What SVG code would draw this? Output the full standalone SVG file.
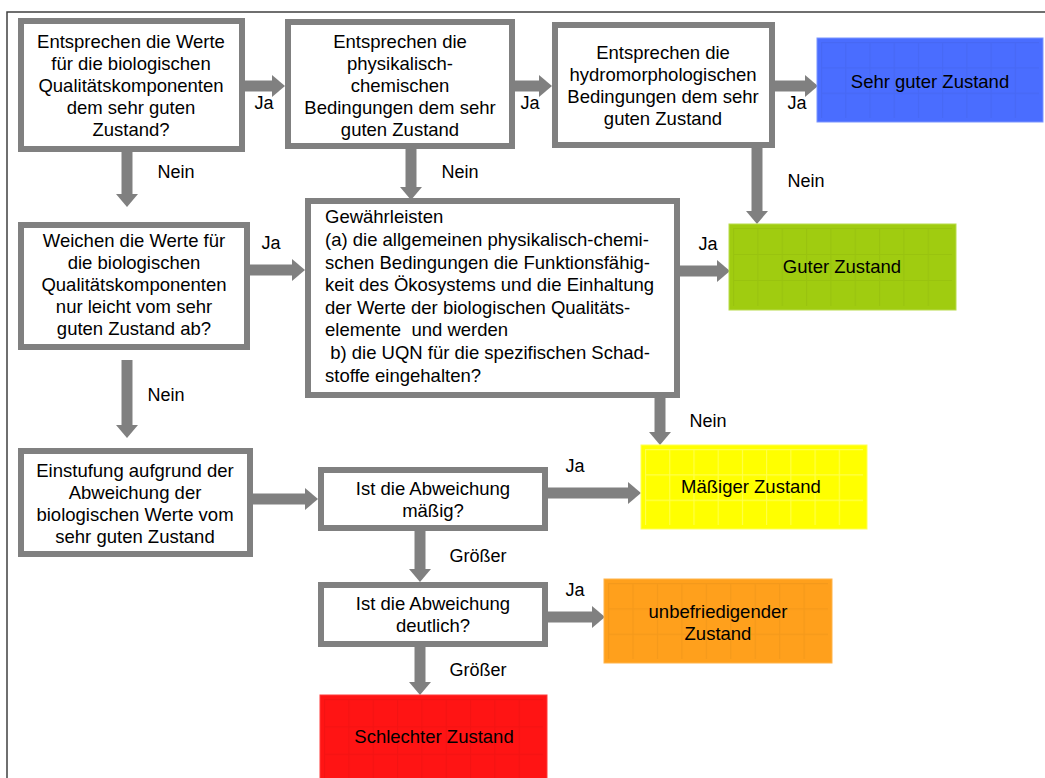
<svg xmlns="http://www.w3.org/2000/svg" width="1045" height="778" viewBox="0 0 1045 778">
<defs>
<style>
text{font-family:"Liberation Sans",Arial,sans-serif;font-size:18.5px;fill:#000}
.c{text-anchor:middle}
.box{fill:#fff;stroke:#808080;stroke-width:6}
.arr{stroke:#808080;stroke-width:11;fill:none;marker-end:url(#ah)}
.lbl{text-anchor:middle;font-size:18px}
.gd{fill:url(#gridD)}
.gl{fill:url(#gridL)}
</style>
<marker id="ah" viewBox="0 0 13 22" refX="1" refY="11" markerWidth="13" markerHeight="22" markerUnits="userSpaceOnUse" orient="auto">
<path d="M0,0 L13,11 L0,22 Z" fill="#808080"/>
</marker>
<pattern id="gridD" patternUnits="objectBoundingBox" width="0.1111" height="0.3333">
<path d="M0.5,0 V300 M0,0.5 H400" stroke="rgba(0,0,0,0.045)" stroke-width="1.2" fill="none"/>
</pattern>
<pattern id="gridL" patternUnits="objectBoundingBox" width="0.1111" height="0.3333">
<path d="M0.5,0 V300 M0,0.5 H400" stroke="rgba(255,255,255,0.3)" stroke-width="1.2" fill="none"/>
</pattern>
</defs>
<rect width="1045" height="778" fill="#fff"/>
<path d="M7,778 V12 H1045" fill="none" stroke="#404040" stroke-width="1.5"/>

<g id="connectors">
<line class="arr" x1="245" y1="86" x2="273" y2="86"/>
<line class="arr" x1="515" y1="86" x2="540" y2="86"/>
<line class="arr" x1="775" y1="86" x2="806" y2="86"/>
<line class="arr" x1="127" y1="150" x2="127" y2="195"/>
<line class="arr" x1="411" y1="148" x2="411" y2="188"/>
<line class="arr" x1="757" y1="148" x2="757" y2="212"/>
<line class="arr" x1="250" y1="270" x2="293" y2="270"/>
<line class="arr" x1="680" y1="271" x2="718" y2="271"/>
<line class="arr" x1="127" y1="360" x2="127" y2="426"/>
<line class="arr" x1="660" y1="397" x2="660" y2="433"/>
<line class="arr" x1="252" y1="499" x2="306" y2="499"/>
<line class="arr" x1="545" y1="493" x2="629" y2="493"/>
<line class="arr" x1="420" y1="528" x2="420" y2="570"/>
<line class="arr" x1="545" y1="617" x2="593" y2="617"/>
<line class="arr" x1="420" y1="647" x2="420" y2="683"/>
<text class="lbl" x="264" y="109">Ja</text>
<text class="lbl" x="530" y="109">Ja</text>
<text class="lbl" x="797" y="109">Ja</text>
<text class="lbl" x="176" y="178">Nein</text>
<text class="lbl" x="460" y="178">Nein</text>
<text class="lbl" x="806" y="187">Nein</text>
<text class="lbl" x="271" y="249">Ja</text>
<text class="lbl" x="708" y="250">Ja</text>
<text class="lbl" x="166" y="401">Nein</text>
<text class="lbl" x="708" y="427">Nein</text>
<text class="lbl" x="575" y="472">Ja</text>
<text class="lbl" x="478" y="562">Größer</text>
<text class="lbl" x="575" y="596">Ja</text>
<text class="lbl" x="478" y="676">Größer</text>
</g>

<g id="q-bio">
<rect class="box" x="21" y="21" width="221" height="128"/>
<text class="c" x="131" y="48">Entsprechen die Werte</text>
<text class="c" x="131" y="70">für die biologischen</text>
<text class="c" x="131" y="92">Qualitätskomponenten</text>
<text class="c" x="131" y="114">dem sehr guten</text>
<text class="c" x="131" y="136">Zustand?</text>
</g>

<g id="q-phys">
<rect class="box" x="288" y="22" width="224" height="124"/>
<text class="c" x="400" y="48">Entsprechen die</text>
<text class="c" x="400" y="70">physikalisch-</text>
<text class="c" x="400" y="92">chemischen</text>
<text class="c" x="400" y="114">Bedingungen dem sehr</text>
<text class="c" x="400" y="136">guten Zustand</text>
</g>

<g id="q-hydro">
<rect class="box" x="555" y="25" width="217" height="120"/>
<text class="c" x="663" y="59">Entsprechen die</text>
<text class="c" x="663" y="81">hydromorphologischen</text>
<text class="c" x="663" y="103">Bedingungen dem sehr</text>
<text class="c" x="663" y="125">guten Zustand</text>
</g>

<g id="sehr-gut">
<rect x="817" y="38" width="226" height="84" fill="#4a6dff" stroke="#7b95ff" stroke-width="1"/>
<rect class="gd" x="821" y="42" width="218" height="76"/>
<text class="c" x="930" y="88">Sehr guter Zustand</text>
</g>

<g id="q-leicht">
<rect class="box" x="21" y="225" width="226" height="122"/>
<text class="c" x="134" y="247">Weichen die Werte für</text>
<text class="c" x="134" y="269">die biologischen</text>
<text class="c" x="134" y="291">Qualitätskomponenten</text>
<text class="c" x="134" y="313">nur leicht vom sehr</text>
<text class="c" x="134" y="335">guten Zustand ab?</text>
</g>

<g id="q-gewaehr">
<rect class="box" x="308" y="201" width="369" height="194"/>
<text x="325" y="223">Gewährleisten</text>
<text x="325" y="246">(a) die allgemeinen physikalisch-chemi-</text>
<text x="325" y="269">schen Bedingungen die Funktionsfähig-</text>
<text x="325" y="291">keit des Ökosystems und die Einhaltung</text>
<text x="325" y="314">der Werte der biologischen Qualitäts-</text>
<text x="325" y="336" xml:space="preserve">elemente  und werden</text>
<text x="325" y="359" xml:space="preserve"> b) die UQN für die spezifischen Schad-</text>
<text x="325" y="382">stoffe eingehalten?</text>
</g>

<g id="gut">
<rect x="729" y="224" width="227" height="86" fill="#a0cc10" stroke="#b8db4a" stroke-width="1"/>
<rect class="gd" x="733" y="228" width="219" height="78"/>
<text class="c" x="842" y="273">Guter Zustand</text>
</g>

<g id="einstufung">
<rect class="box" x="21" y="451" width="229" height="103"/>
<text class="c" x="135" y="477">Einstufung aufgrund der</text>
<text class="c" x="135" y="499">Abweichung der</text>
<text class="c" x="135" y="521">biologischen Werte vom</text>
<text class="c" x="135" y="543">sehr guten Zustand</text>
</g>

<g id="q-maessig">
<rect class="box" x="321" y="470" width="224" height="58"/>
<text class="c" x="433" y="495">Ist die Abweichung</text>
<text class="c" x="433" y="517">mäßig?</text>
</g>

<g id="maessig">
<rect x="641" y="445" width="226" height="84" fill="#ffff00" stroke="#ffff55" stroke-width="1"/>
<rect class="gl" x="645" y="449" width="218" height="76"/>
<text class="c" x="751" y="493">Mäßiger Zustand</text>
</g>

<g id="q-deutlich">
<rect class="box" x="321" y="585" width="224" height="59"/>
<text class="c" x="433" y="610">Ist die Abweichung</text>
<text class="c" x="433" y="632">deutlich?</text>
</g>

<g id="unbefriedigend">
<rect x="604" y="579" width="228" height="84" fill="#ffa01c" stroke="#ffb44a" stroke-width="1"/>
<rect class="gd" x="608" y="583" width="220" height="76"/>
<text class="c" x="718" y="618">unbefriedigender</text>
<text class="c" x="718" y="640">Zustand</text>
</g>

<g id="schlecht">
<rect x="320" y="695" width="227" height="90" fill="#ff1414" stroke="#ff3a3a" stroke-width="1"/>
<rect class="gd" x="324" y="699" width="219" height="82"/>
<text class="c" x="434" y="743">Schlechter Zustand</text>
</g>
</svg>
